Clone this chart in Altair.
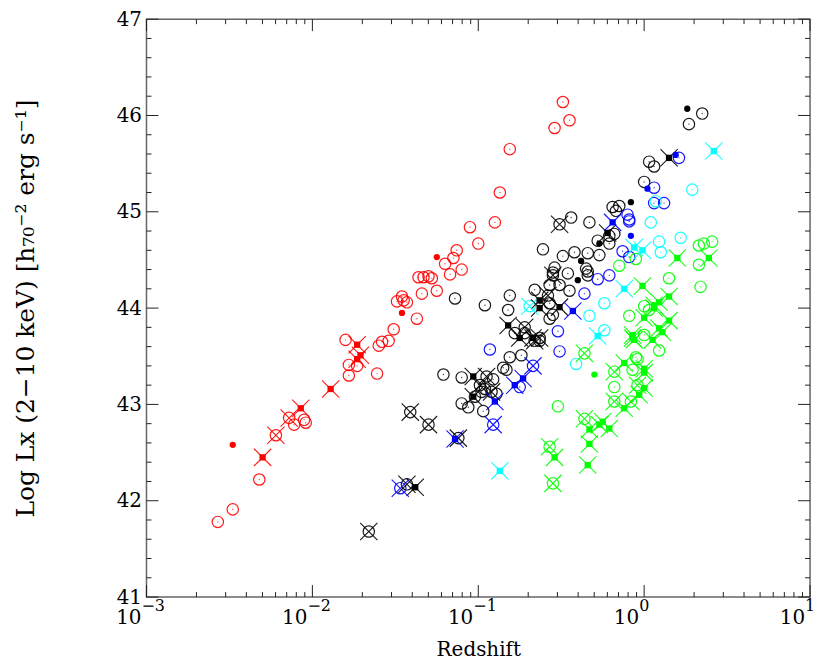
import altair as alt
import pandas as pd

# (log10 redshift, log Lx) pairs, grouped by colour and marker
RED_CIRCLE = [(-2.57,41.78),(-2.48,41.91),(-2.32,42.22),(-2.11,42.79),(-2.05,42.84),(-2.04,42.81),
    (-1.80,43.67),(-1.78,43.41),(-1.78,43.30),(-1.73,43.40),(-1.61,43.32),(-1.60,43.61),(-1.58,43.65),(-1.54,43.66),
    (-1.51,43.78),(-1.37,43.89),(-1.49,44.07),(-1.46,44.12),(-1.45,44.08),(-1.43,44.06),(-1.34,44.15),(-1.25,44.18),
    (-1.36,44.32),(-1.33,44.32),(-1.30,44.33),(-1.28,44.31),(-1.17,44.35),(-1.10,44.40),(-1.20,44.46),(-1.15,44.52),
    (-1.13,44.60),(-1.00,44.67),(-1.05,44.84),(-0.90,44.89),(-0.87,45.20),(-0.81,45.65),(-0.54,45.87),(-0.45,45.95),(-0.49,46.14)]
RED_DOT = [(-2.48,42.58),(-1.46,43.95),(-1.25,44.53)]
RED_XFILL = [(-2.30,42.45),(-2.07,42.96),(-1.89,43.16),(-1.73,43.62),(-1.71,43.51),(-1.73,43.47)]
RED_XCIRC = [(-2.22,42.68),(-2.14,42.86)]

BLACK_CIRCLE = [(0.35,46.02),(0.27,45.91),(0.03,45.52),(0.06,45.47),(0.00,45.31),(-0.19,45.05),(-0.15,45.06),(-0.17,45.01),
    (-0.21,44.75),(-0.18,44.77),(-0.28,44.70),(-0.21,44.67),(-0.44,44.94),(-0.33,44.89),(-0.61,44.61),(-0.49,44.54),
    (-0.42,44.58),(-0.34,44.57),(-0.27,44.55),(-0.54,44.42),(-0.55,44.37),(-0.46,44.36),(-0.35,44.41),(-0.34,44.38),
    (-0.34,44.34),(-0.51,44.24),(-0.45,44.18),(-0.57,44.24),(-0.66,44.19),(-1.14,44.10),(-0.96,44.03),(-0.81,44.13),
    (-0.82,43.98),(-0.57,44.05),(-0.55,43.93),(-0.57,43.89),(-0.78,43.74),(-0.72,43.74),(-0.63,43.66),(-1.21,43.31),
    (-1.10,43.28),(-0.85,43.38),(-0.83,43.36),(-0.81,43.49),(-0.74,43.51),(-0.96,43.16),(-0.98,43.13),(-1.02,43.08),
    (-1.10,43.01),(-1.06,42.97),(-0.97,42.93),(-0.91,43.26),(-0.89,43.11)]
BLACK_XCIRC = [(-0.51,44.87),(-0.55,44.34),(-0.58,44.13),(-0.72,43.80),(-0.63,43.69),(-0.66,43.66),(-0.95,43.29),
    (-0.99,43.20),(-0.92,43.13),(-1.41,42.92),(-1.30,42.79),(-1.12,42.65),(-1.43,42.17),(-1.66,41.68)]
BLACK_XFILL = [(0.15,45.56),(-0.22,44.78),(-0.63,44.08),(-0.63,44.00),(-0.51,44.01),(-0.82,43.82),(-0.75,43.69),
    (-0.67,43.69),(-1.03,43.29),(-1.03,43.08),(-1.38,42.14)]
BLACK_DOT = [(0.26,46.07),(-0.08,45.10),(-0.27,44.67),(-0.38,44.49),(-0.40,44.29)]

BLUE_DOT = [(0.19,45.59),(0.02,45.24),(-0.08,44.75)]
BLUE_CIRCLE = [(0.21,45.56),(0.06,45.25),(0.06,45.09),(0.12,45.09),(-0.10,44.97),(-0.09,44.92),(-0.09,44.90),
    (-0.13,44.59),(-0.09,44.53),(-0.21,44.34),(-0.28,44.30),(-0.36,44.15),(-0.52,43.76),(-0.93,43.57),(-0.51,43.55),(-0.75,43.18)]
BLUE_XFILL = [(-0.19,44.89),(-0.43,43.97),(-0.78,43.20),(-0.73,43.27),(-0.90,43.03),(-1.14,42.64)]
BLUE_XCIRC = [(-0.67,43.40),(-0.91,42.79),(-1.47,42.13)]

CYAN_XFILL = [(0.42,45.63),(-0.06,44.63),(-0.01,44.60),(-0.12,44.20),(-0.28,43.71),(-0.87,42.31)]
CYAN_XCIRC = [(-0.69,44.02)]
CYAN_CIRCLE = [(0.29,45.23),(0.07,45.11),(0.04,44.89),(0.09,44.69),(0.10,44.58),(0.22,44.73),(-0.24,44.05),
    (-0.33,43.92),(-0.24,43.77),(-0.41,43.42)]

GREEN_CIRCLE = [(0.33,44.65),(0.36,44.67),(0.41,44.69),(0.33,44.45),(0.34,44.22),(0.15,44.31),(-0.05,44.51),(-0.15,44.44),
    (0.00,44.02),(0.03,43.98),(-0.09,43.92),(0.00,43.72),(0.09,43.56),(-0.05,43.49),(-0.04,43.47),(-0.07,43.36),
    (-0.18,43.18),(-0.52,42.98)]
GREEN_XFILL = [(0.20,44.52),(0.39,44.52),(-0.01,44.23),(0.15,44.12),(0.09,44.06),(0.06,44.03),(0.06,44.00),(0.00,43.90),
    (0.15,43.87),(0.09,43.79),(0.11,43.75),(0.05,43.67),(-0.07,43.72),(-0.07,43.69),(-0.06,43.67),(-0.12,43.43),
    (0.00,43.37),(0.00,43.33),(0.00,43.17),(-0.03,43.10),(-0.12,42.96),(-0.33,42.74),(-0.27,42.79),(-0.25,42.82),
    (-0.21,42.75),(-0.33,42.59),(-0.34,42.37),(-0.54,42.45)]
GREEN_XCIRC = [(-0.36,43.53),(-0.18,43.34),(-0.04,43.20),(-0.18,43.03),(-0.08,43.03),(-0.36,42.85),(-0.57,42.56),(-0.55,42.18)]
GREEN_DOT = [(-0.30,43.31)]

GROUPS = [
    ("#ff0000", "circle", RED_CIRCLE), ("#ff0000", "dot", RED_DOT), ("#ff0000", "xfill", RED_XFILL), ("#ff0000", "xcirc", RED_XCIRC),
    ("#000000", "circle", BLACK_CIRCLE), ("#000000", "xcirc", BLACK_XCIRC), ("#000000", "xfill", BLACK_XFILL), ("#000000", "dot", BLACK_DOT),
    ("#0000ff", "dot", BLUE_DOT), ("#0000ff", "circle", BLUE_CIRCLE), ("#0000ff", "xfill", BLUE_XFILL), ("#0000ff", "xcirc", BLUE_XCIRC),
    ("#00ffff", "xfill", CYAN_XFILL), ("#00ffff", "xcirc", CYAN_XCIRC), ("#00ffff", "circle", CYAN_CIRCLE),
    ("#00ff00", "circle", GREEN_CIRCLE), ("#00ff00", "xfill", GREEN_XFILL), ("#00ff00", "xcirc", GREEN_XCIRC), ("#00ff00", "dot", GREEN_DOT),
]

X_MAJOR = [0.001, 0.01, 0.1, 1, 10]
X_EXPONENT = ["−3", "−2", "−1", "0", "1"]
X_MINOR = [m * d for d in [0.001, 0.01, 0.1, 1] for m in range(2, 10)]
Y_MAJOR = [41, 42, 43, 44, 45, 46, 47]
Y_MINOR = [41.2, 41.4, 41.6, 41.8, 42.2, 42.4, 42.6, 42.8, 43.2, 43.4, 43.6, 43.8, 44.2, 44.4, 44.6, 44.8,
           45.2, 45.4, 45.6, 45.8, 46.2, 46.4, 46.6, 46.8]

rows = []
for col, mk, pts in GROUPS:
    for lz, lx in pts:
        rows.append({"z": 10 ** lz, "L": lx, "color": col, "marker": mk})
df = pd.DataFrame(rows)

W, H = 666, 580
FONT = "DejaVu Serif"
xscale = alt.Scale(type="log", domain=[0.001, 10], nice=False)
yscale = alt.Scale(domain=[41, 47], nice=False, zero=False)
xaxis = alt.Axis(values=X_MAJOR, labels=False, ticks=False, domain=False, grid=False, title="Redshift",
                 titleFont=FONT, titleFontSize=20, titleFontWeight="normal", titleColor="#000", titlePadding=43)
yaxis = alt.Axis(values=Y_MAJOR, format="d", ticks=False, domain=False, grid=False,
                 title="Log Lx (2−10 keV) [h₇₀⁻² erg s⁻¹]", labelFont=FONT, titleFont=FONT,
                 labelFontSize=20, titleFontSize=25, titleFontWeight="normal", labelColor="#000", titleColor="#000",
                 labelPadding=5, titleX=-121, titleY=H / 2, titleAngle=270, titleAlign="center", titleBaseline="middle",
                 labelOverlap=False)

X = lambda f: alt.X(f, type="quantitative", scale=xscale, axis=xaxis)
Y = lambda f: alt.Y(f, type="quantitative", scale=yscale, axis=yaxis)

base = alt.Chart(df).encode(x=X("z"), y=Y("L"), color=alt.Color("color:N", scale=None))
XPATH = "M-1,-1L1,1M-1,1L1,-1"
circles = base.transform_filter("datum.marker == 'circle' || datum.marker == 'xcirc'").mark_point(
    shape="circle", filled=False, size=130, strokeWidth=1.2, opacity=0.9)
centers = base.transform_filter("datum.marker == 'circle'").mark_point(shape="circle", filled=True, size=2, opacity=0.7)
crosses = base.transform_filter("datum.marker == 'xfill' || datum.marker == 'xcirc'").mark_point(
    shape=XPATH, filled=False, size=300, strokeWidth=1.1, opacity=0.9)
squares = base.transform_filter("datum.marker == 'xfill'").mark_point(shape="square", filled=True, size=40, opacity=1)
dots = base.transform_filter("datum.marker == 'dot'").mark_point(shape="circle", filled=True, size=40, opacity=1)

# x tick labels as "10" with a raised exponent
lab_df = pd.DataFrame({"v": X_MAJOR, "base": ["10"] * len(X_MAJOR), "exp": X_EXPONENT})
lab_base = alt.Chart(lab_df).mark_text(font=FONT, fontSize=20, align="right", baseline="alphabetic", dx=-5,
                                       color="#000").encode(x=X("v"), y=alt.value(H + 27), text="base:N")
lab_exp = alt.Chart(lab_df).mark_text(font=FONT, fontSize=16, align="left", baseline="alphabetic", dx=-5,
                                      color="#000").encode(x=X("v"), y=alt.value(H + 14), text="exp:N")

def xt(vals, length, top):
    d = pd.DataFrame({"v": vals})
    if top:
        return alt.Chart(d).mark_rule(color="#222", strokeWidth=1).encode(x=X("v"), y=alt.value(0), y2=alt.value(length))
    return alt.Chart(d).mark_rule(color="#222", strokeWidth=1).encode(x=X("v"), y=alt.value(H), y2=alt.value(H - length))

def yt(vals, length, right):
    d = pd.DataFrame({"v": vals})
    if right:
        return alt.Chart(d).mark_rule(color="#222", strokeWidth=1).encode(y=Y("v"), x=alt.value(W), x2=alt.value(W - length))
    return alt.Chart(d).mark_rule(color="#222", strokeWidth=1).encode(y=Y("v"), x=alt.value(0), x2=alt.value(length))

ticks = [xt(X_MAJOR, 12, False), xt(X_MINOR, 5, False), xt(X_MAJOR, 12, True), xt(X_MINOR, 5, True),
         yt(Y_MAJOR, 12, False), yt(Y_MINOR, 5, False), yt(Y_MAJOR, 12, True), yt(Y_MINOR, 5, True)]

chart = alt.layer(circles, centers, crosses, squares, dots, lab_base, lab_exp, *ticks).properties(
    width=W, height=H,
    autosize=alt.AutoSizeParams(type="none"),
    padding={"left": 139, "top": 10, "right": 12, "bottom": 62},
    background="white",
).configure_view(stroke="#666", strokeWidth=1.5)

chart.save("out.html", embed_options={"renderer": "svg", "actions": False})
